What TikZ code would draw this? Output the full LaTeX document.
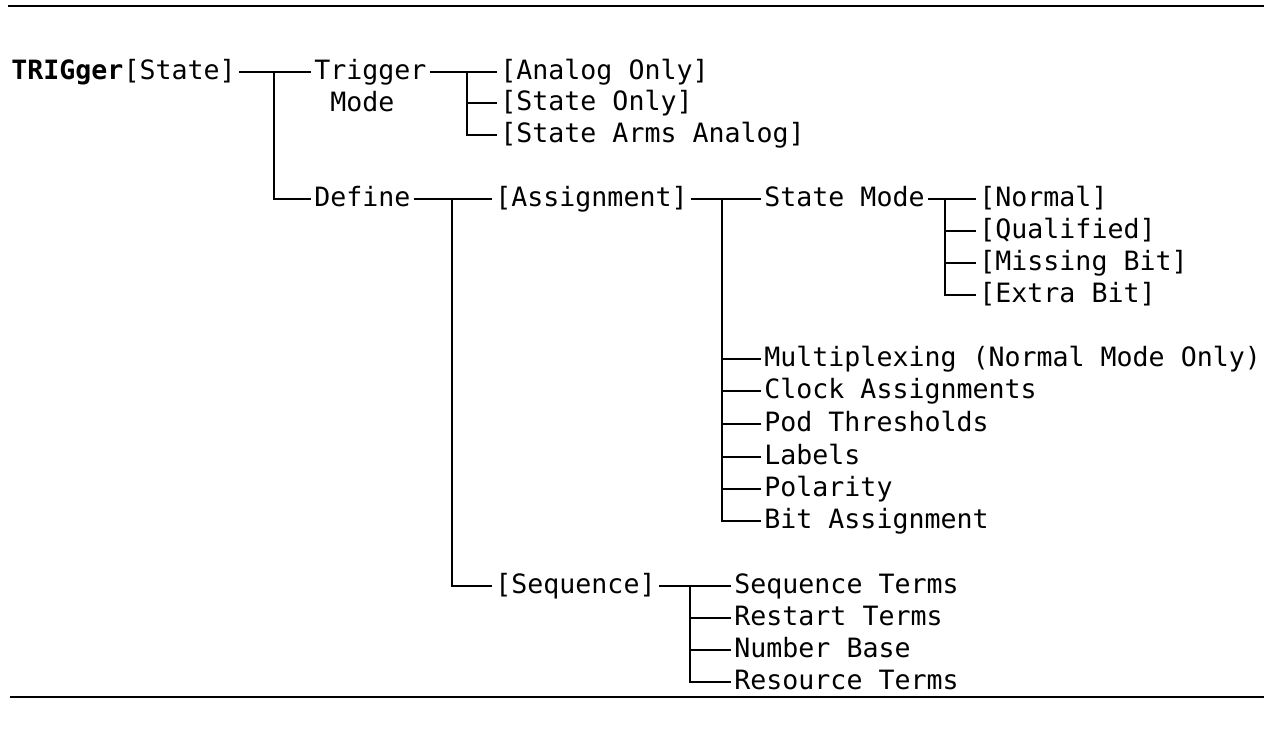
\documentclass[tikz,border=0pt]{standalone}
\usepackage{fontspec}
\setmonofont{DejaVu Sans Mono}
\tikzset{
	item/.style={anchor=west, inner xsep=1.5pt, inner ysep=0pt, text height=0.73em, text depth=0pt},
	branch/.style={line width=0.8pt},
	rule/.style={line width=1pt}
}
\begin{document}
\begin{tikzpicture}[x=0.5pt, y=-0.5pt, font=\ttfamily\fontsize{13.3}{16}\selectfont]
		\useasboundingbox (0,0) rectangle (1264,745);
		\draw[rule] (8,6) -- (1264,6);
		\draw[rule, line width=0.75pt] (10,697) -- (1264,697);
		% first level
		\node[item] (trig) at (8,72) {\textbf{TRIGger}[State]};
		\node[item] (tmode) at (311,72) {Trigger};
		\node[item] (tmodeb) at (327,104) {Mode};
		\node[item] (define) at (311,199) {Define};
		% trigger mode
		\node[item] (analog) at (497,72) {[Analog Only]};
		\node[item] (stonly) at (497,103) {[State Only]};
		\node[item] (arms) at (497,135) {[State Arms Analog]};
		% define
		\node[item] (assign) at (492,199) {[Assignment]};
		\node[item] (sequence) at (492,586) {[Sequence]};
		\node[item] (statemode) at (761,199) {State Mode};
		\node[item] (normal) at (976,199) {[Normal]};
		\node[item] (qualified) at (976,231) {[Qualified]};
		\node[item] (missing) at (976,263) {[Missing Bit]};
		\node[item] (extra) at (976,295) {[Extra Bit]};
		\node[item] (mux) at (761,359) {Multiplexing (Normal Mode Only)};
		\node[item] (clock) at (761,391) {Clock Assignments};
		\node[item] (pod) at (761,424) {Pod Thresholds};
		\node[item] (labels) at (761,457) {Labels};
		\node[item] (polarity) at (761,489) {Polarity};
		\node[item] (bitassign) at (761,521) {Bit Assignment};
		\node[item] (seqterms) at (731,586) {Sequence Terms};
		\node[item] (restart) at (731,618) {Restart Terms};
		\node[item] (numbase) at (731,650) {Number Base};
		\node[item] (resource) at (731,682) {Resource Terms};
		% junctions
		\coordinate (jTrig) at (274,72);
		\coordinate (jMode) at (467,72);
		\coordinate (jDefine) at (452,199);
		\coordinate (jAssign) at (722,199);
		\coordinate (jState) at (945,199);
		\coordinate (jSeq) at (690,586);
		% branches
		\begin{scope}[branch]
		\draw (trig.east) -- (tmode.west);
		\draw (jTrig) |- (define.west);
		\draw (tmode.east) -- (analog.west);
		\foreach \n in {stonly,arms} \draw (jMode) |- (\n.west);
		\draw (define.east) -- (assign.west);
		\draw (jDefine) |- (sequence.west);
		\draw (assign.east) -- (statemode.west);
		\foreach \n in {mux,clock,pod,labels,polarity,bitassign} \draw (jAssign) |- (\n.west);
		\draw (statemode.east) -- (normal.west);
		\foreach \n in {qualified,missing,extra} \draw (jState) |- (\n.west);
		\draw (sequence.east) -- (seqterms.west);
		\foreach \n in {restart,numbase,resource} \draw (jSeq) |- (\n.west);
		\end{scope}
	\end{tikzpicture}
\end{document}
